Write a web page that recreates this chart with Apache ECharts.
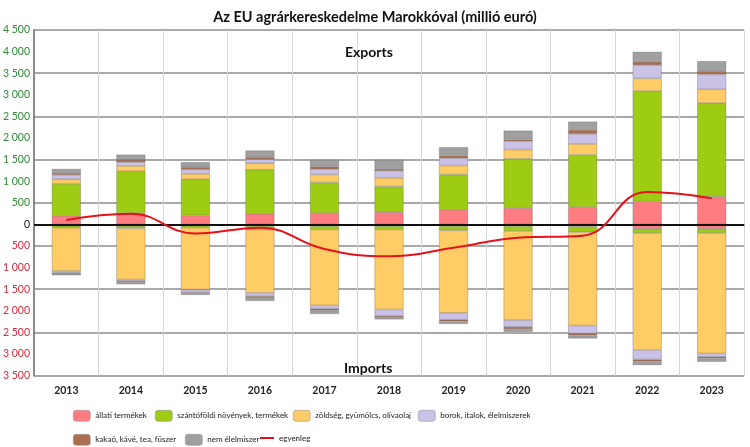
<!DOCTYPE html>
<html>
<head>
<meta charset="utf-8">
<script src="https://cdn.jsdelivr.net/npm/echarts@6/dist/echarts.min.js"></script>
<style>
html,body{margin:0;padding:0;background:#fff;}
#c{width:750px;height:447px;}
</style>
</head>
<body>
<div id="c"></div>
<script>
const years = ['2013','2014','2015','2016','2017','2018','2019','2020','2021','2022','2023'];
const seriesNames = ['állati termékek','szántóföldi növények, termékek','zöldség, gyümölcs, olívaolaj','borok, italok, élelmiszerek','kakaó, kávé, tea, fűszer','nem élelmiszer'];
const balanceName = 'egyenleg';

// Exports (million EUR)
const expAnimal  = [200, 260, 208, 247, 261, 285, 339, 377, 400, 530, 645];
const expArable  = [740, 970, 838,1017, 709, 593, 816,1141,1210,2557,2164];
const expFruitVeg= [105, 125, 125, 152, 185, 201, 208, 215, 254, 293, 317];
const expDrinks  = [100,  85, 100,  92, 122, 161, 169, 192, 231, 307, 346];
const expCocoa   = [ 45,  55,  54,  47,  63,  47,  62,  39,  93,  77,  76];
const expNonFood = [ 95, 120, 115, 155, 154, 207, 192, 207, 191, 231, 231];

// Imports (million EUR, shown below zero)
const impAnimal  = [ 30,  35,  30,  40,  40,  40,  40,  40,  50, 100, 100];
const impArable  = [ 46,  57,  46,  82,  80,  80, 100, 115, 128, 100, 100];
const impFruitVeg= [1003,1185,1432,1464,1755,1848,1910,2063,2163,2710,2787];
const impDrinks  = [ 46,  39,  69,  77,  77, 146, 154, 154, 185, 216,  77];
const impCocoa   = [ 20,  25,  20,  40,  40,  30,  40,  50,  45,  46,  39];
const impNonFood = [ 33,  45,  35,  68,  80,  55,  60,  65,  70,  85,  77];

// Balance
const balance = [100, 245, -210, -75, -570, -740, -540, -310, -260, 750, 605];

// Y tick labels
const yMin = -3500, yMax = 4500, yStep = 500, gridStep = 1000;

const colors = ['#ff7c80','#9dcc13','#ffcc66','#cbc2e8','#ab6f50','#a0a0a0'];
const FONT = 'Lato, "Liberation Sans", sans-serif';

const expData = [expAnimal, expArable, expFruitVeg, expDrinks, expCocoa, expNonFood];
const impData = [impAnimal, impArable, impFruitVeg, impDrinks, impCocoa, impNonFood];

function fmt(v){
  return String(Math.abs(v)).replace(/\B(?=(\d{3})+(?!\d))/g, ' ');
}

const series = [];
expData.forEach((arr, i) => {
  series.push({
    name: seriesNames[i], type: 'bar', stack: 'total', barWidth: '45%',
    data: arr,
    itemStyle: {color: colors[i], borderColor: 'rgba(90,90,90,0.55)', borderWidth: 0.6},
    emphasis: {disabled: true}
  });
});
impData.forEach((arr, i) => {
  series.push({
    name: seriesNames[i], type: 'bar', stack: 'total', barWidth: '45%',
    data: arr.map(v => -v),
    itemStyle: {color: colors[i], borderColor: 'rgba(90,90,90,0.55)', borderWidth: 0.6},
    emphasis: {disabled: true}
  });
});
series.push({
  name: balanceName, type: 'line', smooth: 0.45, symbol: 'none', z: 10,
  data: balance,
  lineStyle: {color: '#e3121b', width: 2},
  itemStyle: {color: '#e3121b'},
  markLine: {
    silent: true, symbol: 'none', label: {show: false},
    lineStyle: {color: '#111', width: 2, type: 'solid'},
    data: [{yAxis: 0}]
  }
});

const legendPos = [
  {name: seriesNames[0], left: 73, top: 410},
  {name: seriesNames[1], left: 155, top: 410},
  {name: seriesNames[2], left: 293, top: 410},
  {name: seriesNames[3], left: 418, top: 410},
  {name: seriesNames[4], left: 73, top: 434},
  {name: seriesNames[5], left: 185, top: 434},
  {name: balanceName, left: 260, top: 434}
];
const legends = legendPos.map(p => {
  const isLine = p.name === balanceName;
  return {
    data: [isLine ? {name: p.name, icon: 'rect'} : p.name],
    left: p.left, top: p.top, orient: 'horizontal', padding: 0,
    itemWidth: isLine ? 14 : 17, itemHeight: isLine ? 2 : 11,
    selectedMode: false,
    itemStyle: isLine ? {borderWidth: 0} : {borderColor: '#999', borderWidth: 0.6},
    textStyle: {fontFamily: FONT, fontSize: 8, color: '#222'}
  };
});

const chart = echarts.init(document.getElementById('c'), null, {renderer: 'canvas'});
chart.setOption({
  animation: false,
  backgroundColor: '#fff',
  title: [
    {text: 'Az EU agrárkereskedelme Marokkóval (millió euró)', left: 'center', top: 5,
     textStyle: {fontFamily: FONT, fontSize: 14.5, fontWeight: 'bold', color: '#111'}},
    {text: 'Exports', left: 340, top: 40,
     textStyle: {fontFamily: FONT, fontSize: 14, fontWeight: 'bold', color: '#111'}},
    {text: 'Imports', left: 339, top: 356,
     textStyle: {fontFamily: FONT, fontSize: 14, fontWeight: 'bold', color: '#111'}}
  ],
  legend: legends,
  grid: {left: 33, right: 6, top: 30, bottom: 71.4},
  xAxis: {
    type: 'category', data: years,
    axisLine: {show: true, lineStyle: {color: '#9a9a9a', width: 2}},
    axisTick: {show: false},
    splitLine: {show: true, interval: 0, lineStyle: {color: '#d6d6d6', width: 1}},
    axisLabel: {margin: 10, fontFamily: FONT, fontSize: 10.5, fontWeight: 'bold', color: '#222'}
  },
  yAxis: [
    {
      type: 'value', min: yMin, max: yMax, interval: yStep,
      axisLine: {show: true, lineStyle: {color: '#8a8a8a', width: 2}},
      axisTick: {show: false},
      splitLine: {show: false},
      axisLabel: {
        margin: 4, fontFamily: FONT, fontSize: 10.5,
        formatter: v => fmt(v),
        color: v => (v > 0 ? '#2f8a3a' : (v < 0 ? '#d42a3c' : '#111'))
      }
    },
    {
      type: 'value', min: yMin, max: yMax, interval: gridStep, position: 'left',
      axisLine: {show: false}, axisTick: {show: false}, axisLabel: {show: false},
      splitLine: {show: true, lineStyle: {color: '#8c8c8c', width: 1.5}}
    }
  ],
  series: series
});
</script>
</body>
</html>
